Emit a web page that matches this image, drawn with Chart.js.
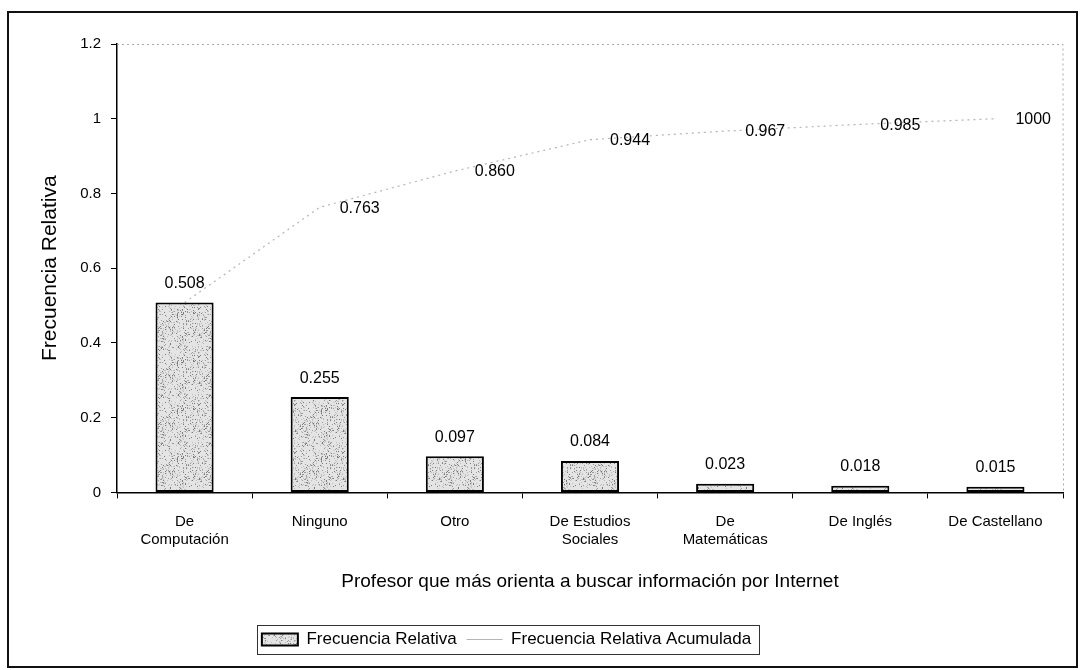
<!DOCTYPE html>
<html><head><meta charset="utf-8">
<script src="https://cdn.jsdelivr.net/npm/chart.js@4/dist/chart.umd.min.js"></script>
<style>html,body{margin:0;padding:0;background:#fff}#wrap{width:1080px;height:670px}</style>
</head><body><div id="wrap"><canvas id="c" width="1080" height="670"></canvas></div>
<script>
const categories = [["De","Computación"],"Ninguno","Otro",["De Estudios","Sociales"],["De","Matemáticas"],"De Inglés","De Castellano"];
const relFreq = [0.508,0.255,0.097,0.084,0.023,0.018,0.015];
const cumFreq = [0.508,0.763,0.860,0.944,0.967,0.985,1.000];
const relLabels = ["0.508","0.255","0.097","0.084","0.023","0.018","0.015"];
const cumLabels = ["","0.763","0.860","0.944","0.967","0.985","1000"];
const yTicks = [0,0.2,0.4,0.6,0.8,1,1.2];
const yTickLabels = ["0","0.2","0.4","0.6","0.8","1","1.2"];
const seriesNames = ["Frecuencia Relativa","Frecuencia Relativa Acumulada"];
const xTitle = "Profesor que más orienta a buscar información por Internet";
const yTitle = "Frecuencia Relativa";

const FONT = "'Liberation Sans', Arial, sans-serif";

function makePattern(){
  const p=document.createElement('canvas');p.width=p.height=48;
  const g=p.getContext('2d');g.fillStyle='#e4e4e4';g.fillRect(0,0,48,48);
  for(let y=0;y<48;y++)for(let x=0;x<48;x++){
    const h=(((x*73856093)^(y*19349663))>>>0)%19;
    if(h<4){g.fillStyle=h===0?'#7a7a7a':(h===1?'#9a9a9a':'#bdbdbd');g.fillRect(x,y,1,1);}
  }
  return g.createPattern(p,'repeat');
}
const pattern = makePattern();

const decor = {
  id:'decor',
  afterLayout(chart){
    const L=chart.legend;
    if(L){L.left-=25;L.right-=25;}
  },
  beforeDraw(chart){
    const c=chart.ctx;c.save();c.fillStyle='#fff';c.fillRect(0,0,chart.width,chart.height);c.restore();
  },
  beforeDatasetsDraw(chart){
    const c=chart.ctx,a=chart.chartArea;
    c.save();c.strokeStyle='#a8a8a8';c.lineWidth=1;c.setLineDash([2,3]);
    c.beginPath();c.moveTo(a.left,a.top+0.5);c.lineTo(a.right,a.top+0.5);c.lineTo(a.right+0.5,a.bottom);c.stroke();
    c.restore();
  },
  afterDatasetsDraw(chart){
    const c=chart.ctx;
    c.save();c.fillStyle='#000';c.font='16px '+FONT;c.textBaseline='middle';
    const m0=chart.getDatasetMeta(0);
    c.textAlign='center';
    m0.data.forEach((b,i)=>{c.fillText(relLabels[i],b.x,b.y-19);});
    const m1=chart.getDatasetMeta(1);
    c.textAlign='left';
    m1.data.forEach((p,i)=>{if(cumLabels[i])c.fillText(cumLabels[i],p.x+20,p.y+1);});
    c.restore();
  },
  afterDraw(chart){
    const c=chart.ctx;c.save();
    const L=chart.legend;
    if(L&&L.legendHitBoxes&&L.legendHitBoxes.length){
      let l=1e9,r=-1e9,t=1e9,b=-1e9;
      L.legendHitBoxes.forEach(h=>{l=Math.min(l,h.left);r=Math.max(r,h.left+h.width);t=Math.min(t,h.top);b=Math.max(b,h.top+h.height);});
      c.strokeStyle='#333';c.lineWidth=1;c.setLineDash([]);
      c.strokeRect(Math.round(l-5)+0.5,Math.round(t-6)+0.5,Math.round(r-l+13),Math.round(b-t+12));
    }
    c.strokeStyle='#111';c.lineWidth=2;c.strokeRect(8,12,1069,655);
    c.restore();
  }
};

new Chart(document.getElementById('c'),{
  data:{
    labels:categories,
    datasets:[
      {type:'bar',label:seriesNames[0],data:relFreq,backgroundColor:pattern,borderColor:'#000',borderWidth:2,borderSkipped:false,barPercentage:0.43,categoryPercentage:1,pointStyle:'rect'},
      {type:'line',label:seriesNames[1],data:cumFreq,borderColor:'#b5b5b5',backgroundColor:'transparent',borderWidth:1.2,borderDash:[2,4],pointRadius:0,tension:0,pointStyle:'line'}
    ]
  },
  options:{
    responsive:false,animation:false,devicePixelRatio:1,
    layout:{padding:{left:0,right:17,top:44,bottom:12}},
    plugins:{
      legend:{position:'bottom',labels:{color:'#000',font:{family:FONT,size:17},usePointStyle:true,pointStyleWidth:36,boxWidth:36,boxHeight:12,padding:10,sort:(a,b)=>a.datasetIndex-b.datasetIndex}},
      tooltip:{enabled:false}
    },
    scales:{
      x:{
        grid:{offset:true,drawOnChartArea:false,tickLength:6,color:'#000'},
        border:{color:'#000',width:1.5},
        ticks:{color:'#000',font:{family:FONT,size:15},padding:14,maxRotation:0,autoSkip:false},
        title:{display:true,text:xTitle,color:'#000',font:{family:FONT,size:19},padding:{top:0,bottom:28}},
        afterFit(s){s.height=128.6;}
      },
      y:{
        min:0,max:1.2,
        afterBuildTicks(s){s.ticks=yTicks.map(v=>({value:v}));},
        grid:{drawOnChartArea:false,tickLength:6,color:'#000'},
        border:{color:'#000',width:1.5},
        ticks:{color:'#000',font:{family:FONT,size:15},padding:10,callback:(v,i)=>yTickLabels[i]},
        title:{display:true,text:yTitle,color:'#000',font:{family:FONT,size:21},padding:{top:38,bottom:0}},
        afterFit(s){s.width=117;}
      }
    }
  },
  plugins:[decor]
});
</script></body></html>
